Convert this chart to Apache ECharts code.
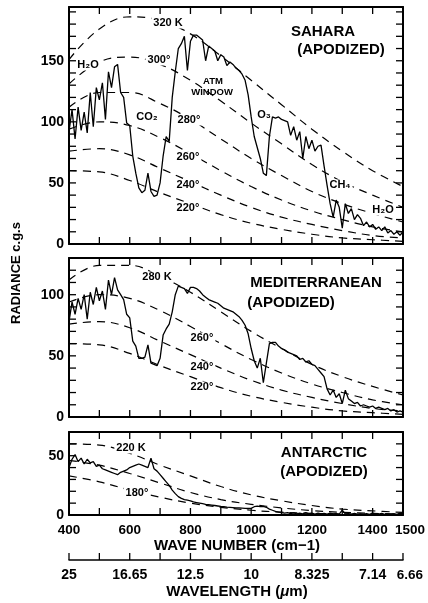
<!DOCTYPE html>
<html>
<head>
<meta charset="utf-8">
<script src="https://cdn.jsdelivr.net/npm/echarts@6.0.0/dist/echarts.min.js"></script>
<style>
html, body { margin: 0; padding: 0; background: #fff; }
#chart { width: 428px; height: 603px; }
</style>
</head>
<body>
<div id="chart"></div>
<script>
// wave numbers of the measured spectra (cm-1)
var specWn = [
	400, 410, 420, 430, 440, 450, 460, 470, 480, 490,
	500, 510, 520, 530, 540, 550, 560, 570, 580, 590,
	600, 610, 620, 630, 640, 650, 660, 670, 680, 690,
	700, 710, 720, 730, 740, 750, 760, 770, 780, 790,
	800, 810, 820, 830, 840, 850, 860, 870, 880, 890,
	900, 910, 920, 930, 940, 950, 960, 970, 980, 990,
	1000, 1010, 1020, 1030, 1040, 1050, 1060, 1070, 1080, 1090,
	1100, 1110, 1120, 1130, 1140, 1150, 1160, 1170, 1180, 1190,
	1200, 1210, 1220, 1230, 1240, 1250, 1260, 1270, 1280, 1290,
	1300, 1310, 1320, 1330, 1340, 1350, 1360, 1370, 1380, 1390,
	1400, 1410, 1420, 1430, 1440, 1450, 1460, 1470, 1480, 1490,
	1500
];
var sahara = [
	92, 110, 86, 112, 93, 108, 91, 124, 96, 128,
	118, 132, 102, 141, 128, 145, 147, 124, 120, 99,
	97, 72, 58, 46, 42, 44, 58, 43, 39, 40,
	50, 72, 88, 84, 120, 141, 160, 164, 170, 142,
	166, 171, 171, 169, 167, 150, 162, 160, 158, 150,
	155, 153, 146, 149, 147, 144, 142, 139, 134, 122,
	104, 88, 79, 70, 58, 56, 88, 104, 103, 104,
	102, 101, 100, 89, 96, 85, 92, 70, 88, 78,
	85, 76, 80, 81, 64, 48, 33, 22, 36, 30,
	13, 33, 25, 29, 20, 24, 21, 15, 18, 14,
	16, 12, 14, 11, 14, 9, 11, 8, 10, 7,
	10
];
var mediterranean = [
	78, 94, 84, 97, 88, 100, 80, 102, 92, 106,
	95, 103, 88, 112, 100, 114, 104, 100, 96, 84,
	81, 62, 58, 48, 48, 49, 59, 44, 43, 42,
	48, 67, 72, 76, 86, 100, 107, 106, 105, 101,
	106, 106, 105, 103, 100, 98, 96, 95, 94, 93,
	91, 89, 88, 87, 86, 84, 82, 79, 75, 68,
	56, 46, 40, 48, 28, 44, 60, 61, 61, 58,
	56, 55, 53, 52, 51, 50, 47, 48, 45, 46,
	43, 42, 39, 36, 33, 23, 18, 22, 16, 19,
	11, 22, 15, 13, 11, 12, 9, 10, 9, 8,
	9, 7, 8, 7, 6, 7, 5, 6, 4, 5,
	4
];
var antarctic = [
	40, 47, 51, 45, 48, 43, 47, 44, 45, 41,
	42, 39, 38, 37, 36, 35, 34, 36, 37, 38,
	40, 41, 42, 43, 42, 41, 40, 48, 39, 37,
	34, 31, 28, 25, 21, 18, 15.5, 14, 13, 12.5,
	12, 11, 10.5, 10, 9.5, 9, 8.8, 8.4, 8, 7.6,
	7.2, 7, 6.6, 6.4, 6.2, 6, 6, 5.8, 5.6, 5.5,
	5.6, 7, 7.5, 7, 7.2, 6.5, 5, 4, 3, 2.5,
	2, 1.5, 2, 1.2, 1.8, 1, 1.5, 1, 2, 1,
	1.5, 0.8, 1.6, 1, 1.4, 0.8, 1.5, 1, 1.2, 0.8,
	4, 1, 1.2, 0.6, 1.4, 0.8, 1, 0.6, 1.2, 0.5,
	1.6, 1, 0.8, 1.3, 0.6, 1, 0.5, 1.2, 0.6, 1.6,
	1
];

// blackbody reference curves (dashed), read every 100 cm-1
var bbWn = [400, 500, 600, 700, 800, 900, 1000, 1100, 1200, 1300, 1400, 1500];
var bb320 = [151, 176, 186, 183, 172, 154, 134, 114, 94, 76, 60, 47];
var bb300 = [131, 149, 153, 147, 134, 117, 99, 82, 65, 51, 40, 30];
var bb280 = [112, 124, 124, 115, 102, 86, 70, 56, 43, 33, 25, 18];
var bb260 = [94, 100, 97, 87, 74, 60, 47, 36, 27, 20, 14, 10];
var bb240 = [76, 78, 73, 62, 51, 40, 30, 22, 16, 11, 7, 5];
var bb220 = [60, 59, 52, 42, 33, 24, 17, 12, 8, 5, 3.5, 2.2];
var bb200 = [46, 42, 35, 27, 19, 13, 9, 6, 3.7, 2.3, 1.4, 0.8];
var bb180 = [33, 28, 21, 15, 10, 6.5, 4, 2.4, 1.4, 0.8, 0.5, 0.25];

// tick labels and tick marks
var wnLabelTicks = [400, 600, 800, 1000, 1200, 1400, 1500];
var wlTicks = [400, 600, 800, 1000, 1200, 1400, 1500];
var wlLabels = ['25', '16.65', '12.5', '10', '8.325', '7.14', '6.66'];
var wnMarks = [500, 600, 700, 800, 900, 1000, 1100, 1200, 1300, 1400];
var rulerMarks = [400, 500, 600, 700, 800, 900, 1000, 1100, 1200, 1300, 1400, 1500];
var radMarks = [
	[10, 20, 30, 40, 50, 60, 70, 80, 90, 100, 110, 120, 130, 140, 150, 160, 170, 180, 190],
	[10, 20, 30, 40, 50, 60, 70, 80, 90, 100, 110, 120],
	[10, 20, 30, 40, 50, 60]
];
var radLabelStep = 50;
var panelMax = [194, 130, 70];

var FONT = '"Liberation Sans", Arial, sans-serif';
var TICK = 7;
var grids = [
	{left: 69, top: 7, width: 334, height: 237},
	{left: 69, top: 258, width: 334, height: 159},
	{left: 69, top: 432, width: 334, height: 83}
];
var labRich = {e: {padding: [0, 0, 0, 14], fontFamily: FONT, fontWeight: 'bold', fontSize: 13.5, color: '#000'}};

var xAxes = [];
var yAxes = [];
grids.forEach(function(g, i) {
	['bottom', 'top'].forEach(function(pos) {
		xAxes.push({
			type: 'value', gridIndex: i, position: pos,
			min: 400, max: 1500, interval: 100,
			axisLine: {show: true, onZero: false, lineStyle: {color: '#000', width: 2}},
			axisTick: {show: false},
			splitLine: {show: false},
			axisLabel: {
				show: i === 2 && pos === 'bottom', showMaxLabel: true,
				color: '#000', fontFamily: FONT, fontWeight: 'bold', fontSize: 13.5, margin: 8, rich: labRich,
				formatter: function(v) {
					if (v === 1500) return '{e|1500}';
					return wnLabelTicks.indexOf(v) >= 0 ? String(v) : '';
				}
			}
		});
	});
	['left', 'right'].forEach(function(pos) {
		yAxes.push({
			type: 'value', gridIndex: i, position: pos,
			min: 0, max: panelMax[i], interval: 10,
			axisLine: {show: true, onZero: false, lineStyle: {color: '#000', width: 2}},
			axisTick: {show: false},
			splitLine: {show: false},
			axisLabel: {
				show: pos === 'left', color: '#000', fontFamily: FONT, fontWeight: 'bold', fontSize: 14, margin: 5,
				formatter: function(v) { return v % radLabelStep === 0 ? String(v) : ''; }
			}
		});
	});
});
// wavelength ruler under the bottom panel
xAxes.push({
	type: 'value', gridIndex: 2, position: 'bottom', offset: 45,
	min: 400, max: 1500, interval: 100,
	axisLine: {show: true, onZero: false, lineStyle: {color: '#000', width: 1.5}},
	axisTick: {show: false},
	splitLine: {show: false},
	axisLabel: {
		showMaxLabel: true,
		color: '#000', fontFamily: FONT, fontWeight: 'bold', fontSize: 14, margin: 8, rich: labRich,
		formatter: function(v) {
			var k = wlTicks.indexOf(v);
			if (k < 0) return '';
			return v === 1500 ? '{e|' + wlLabels[k] + '}' : wlLabels[k];
		}
	}
});

function pairs(xs, ys) {
	return xs.map(function(x, i) { return [x, ys[i]]; });
}
function spectrum(vals, g) {
	return {
		type: 'line', xAxisIndex: g * 2, yAxisIndex: g * 2, data: pairs(specWn, vals),
		symbol: 'none', z: 5, silent: true,
		lineStyle: {color: '#000', width: 1.3}
	};
}
function dashed(vals, g) {
	return {
		type: 'line', xAxisIndex: g * 2, yAxisIndex: g * 2, data: pairs(bbWn, vals),
		symbol: 'none', smooth: 0.4, z: 2, silent: true,
		lineStyle: {color: '#000', width: 1.2, type: [8, 6]}
	};
}
function seg(x1, y1, x2, y2) {
	return {type: 'line', shape: {x1: x1, y1: y1, x2: x2, y2: y2}, style: {stroke: '#000', lineWidth: 1.3}};
}
// inward tick marks on all four sides, placed through the axis scales
function wnTickMarks(g, vals, ruler) {
	return {
		type: 'custom', xAxisIndex: g * 2, yAxisIndex: g * 2, silent: true, clip: false, z: 4,
		data: vals.map(function(v) { return [v, 0]; }),
		renderItem: function(params, api) {
			var cs = params.coordSys;
			var x = api.coord([api.value(0), 0])[0];
			if (ruler) {
				var yr = cs.y + cs.height + 45;
				return {type: 'group', children: [seg(x, yr, x, yr - TICK)]};
			}
			return {type: 'group', children: [
				seg(x, cs.y, x, cs.y + TICK),
				seg(x, cs.y + cs.height, x, cs.y + cs.height - TICK)
			]};
		}
	};
}
function radTickMarks(g, vals) {
	return {
		type: 'custom', xAxisIndex: g * 2, yAxisIndex: g * 2, silent: true, clip: false, z: 4,
		data: vals.map(function(v) { return [400, v]; }),
		renderItem: function(params, api) {
			var cs = params.coordSys;
			var y = api.coord([400, api.value(1)])[1];
			return {type: 'group', children: [
				seg(cs.x, y, cs.x + TICK, y),
				seg(cs.x + cs.width, y, cs.x + cs.width - TICK, y)
			]};
		}
	};
}

var series = [
	dashed(bb320, 0), dashed(bb300, 0), dashed(bb280, 0), dashed(bb260, 0), dashed(bb240, 0), dashed(bb220, 0),
	dashed(bb280, 1), dashed(bb260, 1), dashed(bb240, 1), dashed(bb220, 1),
	dashed(bb220, 2), dashed(bb200, 2), dashed(bb180, 2),
	spectrum(sahara, 0), spectrum(mediterranean, 1), spectrum(antarctic, 2),
	wnTickMarks(0, wnMarks), wnTickMarks(1, wnMarks), wnTickMarks(2, wnMarks), wnTickMarks(2, rulerMarks, true),
	radTickMarks(0, radMarks[0]), radTickMarks(1, radMarks[1]), radTickMarks(2, radMarks[2])
];

function txt(t, x, y, size, bg) {
	var el = {
		type: 'text', x: x, y: y, z: 3,
		style: {
			text: t, fill: '#000', align: 'center', verticalAlign: 'middle',
			font: 'bold ' + size + 'px ' + FONT
		}
	};
	if (bg) {
		el.style.backgroundColor = '#fff';
		el.style.padding = [0, 2];
	}
	return el;
}

var graphics = [
	// panel titles
	txt('SAHARA', 323, 32, 15), txt('(APODIZED)', 341, 50, 15),
	txt('MEDITERRANEAN', 316, 283, 15), txt('(APODIZED)', 291, 303, 15),
	txt('ANTARCTIC', 324, 453, 15), txt('(APODIZED)', 324, 472, 15),
	// temperature labels, Sahara
	txt('320 K', 168, 23, 11, true), txt('300°', 159, 60, 11, true),
	txt('280°', 189, 120, 11, true), txt('260°', 188, 157, 11, true),
	txt('240°', 188, 185, 11, true), txt('220°', 188, 208, 11, true),
	// band labels, Sahara
	txt('H₂O', 88, 65, 11, true), txt('CO₂', 147, 117, 11),
	txt('ATM', 213, 81, 9.5), txt('WINDOW', 212, 92, 9.5),
	txt('O₃', 264, 115, 11), txt('CH₄', 340, 185, 11, true), txt('H₂O', 383, 210, 11, true),
	// Mediterranean
	txt('280 K', 157, 277, 11, true), txt('260°', 202, 338, 11, true),
	txt('240°', 202, 367, 11, true), txt('220°', 202, 387, 11, true),
	// Antarctic
	txt('220 K', 131, 448, 11, true), txt('180°', 137, 493, 11, true),
	// axis names
	txt('WAVE NUMBER (cm−1)', 237, 546, 15),
	{
		type: 'text', x: 237, y: 592, z: 3,
		style: {
			text: '{a|WAVELENGTH (}{i|μ}{a|m)}', align: 'center', verticalAlign: 'middle', fill: '#000',
			rich: {
				a: {fontFamily: FONT, fontWeight: 'bold', fontSize: 15, fill: '#000'},
				i: {fontFamily: FONT, fontWeight: 'bold', fontStyle: 'italic', fontSize: 15, fill: '#000'}
			}
		}
	},
	{
		type: 'text', x: 16, y: 273, z: 3, rotation: Math.PI / 2,
		style: {text: 'RADIANCE c.g.s', align: 'center', verticalAlign: 'middle', fill: '#000', font: 'bold 13px ' + FONT}
	}
];

var chart = echarts.init(document.getElementById('chart'));
chart.setOption({
	animation: false,
	grid: grids,
	xAxis: xAxes,
	yAxis: yAxes,
	series: series,
	graphic: {elements: graphics}
});
</script>
</body>
</html>
